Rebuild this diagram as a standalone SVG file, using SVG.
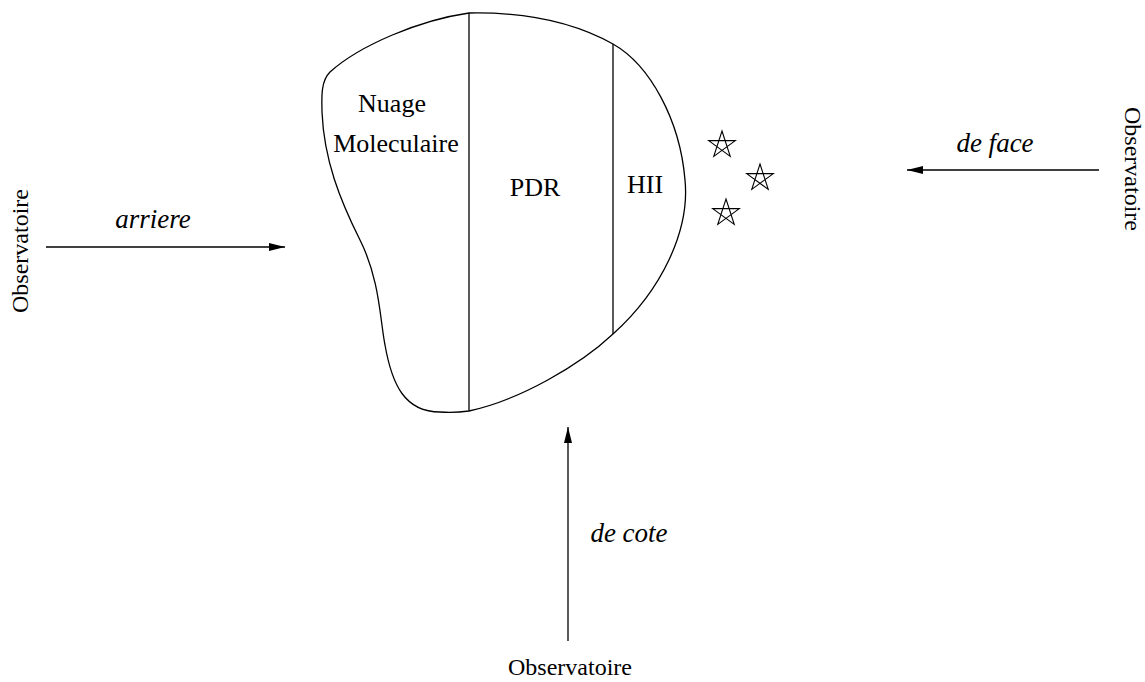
<svg xmlns="http://www.w3.org/2000/svg" width="1145" height="682" viewBox="0 0 1145 682">
<style>
.ln{fill:none;stroke:#000;stroke-width:1.3}
.t{font-family:"Liberation Serif","Times New Roman",serif;fill:#000;text-anchor:middle}
.r{font-size:26px}
.i{font-size:27px;font-style:italic}
.o{font-size:24px}
</style>
<defs>
<marker id="ah" viewBox="0 0 16 8" refX="16" refY="4" markerWidth="16" markerHeight="8" markerUnits="userSpaceOnUse" orient="auto">
<path d="M0,0 L16,4 L0,8 Z" fill="#000"/>
</marker>
<path id="star" d="M0,-14 L8.23,11.33 L-13.31,-4.33 L13.31,-4.33 L-8.23,11.33 Z" fill="none" stroke="#000" stroke-width="1.1" stroke-linejoin="miter"/>
</defs>
<rect width="1145" height="682" fill="#fff"/>
<g id="cloud">
<path class="ln" d="M469,13 C420,20 360,45 330,72 C320,82 322,100 322,112 C324,160 340,200 360,240 C380,280 380,320 385,345 C392,385 405,412 440,412 C452,413 462,412 469,411 C520,400 580,365 613,334 C662,290 690,230 685,180 C680,120 650,65 613,44 C570,20 520,12 469,13 Z"/>
<line class="ln" x1="469" y1="13" x2="469" y2="411"/>
<line class="ln" x1="613" y1="44" x2="613" y2="334"/>
</g>
<g id="nuage">
<text class="t r" x="392" y="112">Nuage</text>
<text class="t r" x="396" y="152">Moleculaire</text>
</g>
<g id="pdr"><text class="t r" x="535" y="196">PDR</text></g>
<g id="hii"><text class="t r" x="645" y="193">HII</text></g>
<g id="stars">
<use href="#star" x="722" y="145"/>
<use href="#star" x="760" y="178"/>
<use href="#star" x="726" y="213"/>
</g>
<g id="obs-left"><text class="t o" transform="translate(28,251) rotate(-90)">Observatoire</text></g>
<g id="obs-right"><text class="t o" transform="translate(1125,169) rotate(90)">Observatoire</text></g>
<g id="obs-bottom"><text class="t o" x="570" y="675">Observatoire</text></g>
<g id="connectors">
<line class="ln" x1="46" y1="247" x2="285" y2="247" marker-end="url(#ah)"/>
<line class="ln" x1="1099" y1="170" x2="907" y2="170" marker-end="url(#ah)"/>
<line class="ln" x1="568" y1="641" x2="568" y2="427" marker-end="url(#ah)"/>
<text class="t i" x="153" y="228">arriere</text>
<text class="t i" x="995" y="152">de face</text>
<text class="t i" x="629" y="542">de cote</text>
</g>
</svg>
